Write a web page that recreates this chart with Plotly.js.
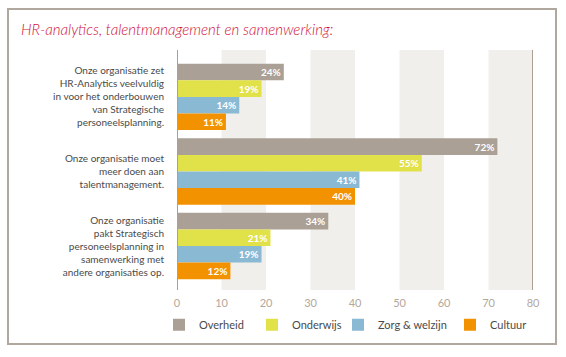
<!DOCTYPE html>
<html>
<head>
<meta charset="utf-8">
<script src="https://cdn.plot.ly/plotly-3.0.1.min.js"></script>
<style>
  html, body { margin: 0; padding: 0; background: #ffffff; }
  #frame { position: absolute; left: 7px; top: 8px; width: 550px; height: 337px; border: 2px solid #b0a89e; box-sizing: border-box; }
  #chart { position: absolute; left: 0; top: 0; width: 566px; height: 357px; }
</style>
</head>
<body>
<div id="frame"></div>
<div id="chart"></div>
<script>
const categories = [
  "Onze organisatie zet<br>HR-Analytics veelvuldig<br>in voor het onderbouwen<br>van Strategische<br>personeelsplanning.",
  "Onze organisatie moet<br>meer doen aan<br>talentmanagement.",
  "Onze organisatie<br>pakt Strategisch<br>personeelsplanning in<br>samenwerking met<br>andere organisaties op."
];
const seriesNames = ["Overheid", "Onderwijs", "Zorg & welzijn", "Cultuur"];
const overheid = [24, 72, 34];
const onderwijs = [19, 55, 21];
const zorg = [14, 41, 19];
const cultuur = [11, 40, 12];
const xTicks = [0, 10, 20, 30, 40, 50, 60, 70, 80];

const colors = ["#aaa096", "#e1e14a", "#8ab9d4", "#f39200"];
const values = [overheid, onderwijs, zorg, cultuur];
const legendIds = ["legend", "legend2", "legend3", "legend4"];
const legendPx = [159, 252, 338, 450];

const traces = values.map((v, i) => ({
  type: "bar",
  orientation: "h",
  name: seriesNames[i],
  legend: legendIds[i],
  x: v,
  y: categories,
  marker: { color: colors[i], line: { width: 0 } },
  text: v.map(d => d + "%"),
  textposition: "inside",
  insidetextanchor: "end",
  constraintext: "none",
  textfont: { family: "Lato", size: 10, color: "#ffffff", weight: "bold" },
  hoverinfo: "none"
}));

const bands = [10, 30, 50, 70].map(s => ({
  type: "rect", xref: "x", yref: "paper", x0: s, x1: s + 10, y0: 0, y1: 1,
  fillcolor: "#f1efeb", line: { width: 0 }, layer: "below"
}));
const lines = [0, 80].map(s => ({
  type: "line", xref: "x", yref: "paper", x0: s, x1: s, y0: 0, y1: 1,
  line: { color: "#aaa096", width: 2 }, layer: "above"
}));

const plotL = 177, plotW = 356;
const layout = {
  width: 566, height: 357,
  margin: { l: plotL, r: 33, t: 50, b: 67, pad: 0 },
  paper_bgcolor: "rgba(0,0,0,0)",
  plot_bgcolor: "rgba(0,0,0,0)",
  barmode: "group",
  bargap: 0.11,
  bargroupgap: 0,
  showlegend: true,
  title: {
    text: "<i>HR-analytics, talentmanagement en samenwerking:</i>",
    font: { family: "Lato", size: 15, weight: 300, color: "#d0103a" },
    x: 21 / 566, xanchor: "left", xref: "container",
    y: 1 - 30 / 357, yanchor: "middle", yref: "container"
  },
  xaxis: {
    range: [0, 80],
    tickvals: xTicks,
    ticktext: xTicks.map(String),
    showgrid: false, zeroline: false, showline: false,
    ticks: "",
    ticklabelstandoff: 5,
    tickfont: { family: "Lato", size: 11, color: "#b3a79b" },
    fixedrange: true
  },
  yaxis: {
    type: "category",
    range: [2.59, -0.63],
    showgrid: false, zeroline: false, showline: false,
    ticks: "",
    ticklabelstandoff: 12,
    tickfont: { family: "Lato", size: 10, color: "#4a4a4a" },
    fixedrange: true
  },
  shapes: bands.concat(lines)
};
legendIds.forEach((id, i) => {
  layout[id] = {
    orientation: "h",
    x: (legendPx[i] - plotL) / plotW, xanchor: "left",
    y: -0.145, yanchor: "middle",
    font: { family: "Lato", size: 11, color: "#4a4a4a" },
    itemwidth: 30,
    bgcolor: "rgba(0,0,0,0)"
  };
});

Plotly.newPlot("chart", traces, layout, { displayModeBar: false, staticPlot: true });
</script>
</body>
</html>
